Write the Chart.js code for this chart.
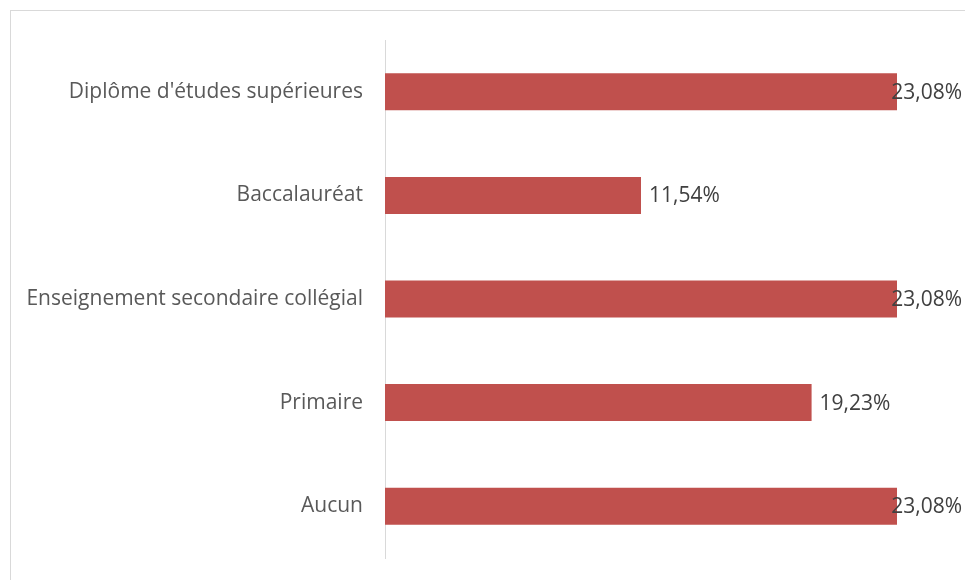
<!DOCTYPE html>
<html><head><meta charset="utf-8">
<script src="https://cdn.jsdelivr.net/npm/chart.js@4/dist/chart.umd.min.js"></script>
<style>html,body{margin:0;padding:0;background:#fff;}#wrap{width:965px;height:580px;position:relative;}</style>
</head><body><div id="wrap"><canvas id="c" width="965" height="580"></canvas></div>
<script>
const categories = ["Diplôme d'études supérieures","Baccalauréat","Enseignement secondaire collégial","Primaire","Aucun"];
const values = [23.08, 11.54, 23.08, 19.23, 23.08];
const valueLabels = ["23,08%","11,54%","23,08%","19,23%","23,08%"];

const FONT = "Open Sans";
const frame = {id:'frame', beforeDraw(chart){const c=chart.ctx;c.save();c.fillStyle='#fff';c.fillRect(0,0,chart.width,chart.height);c.strokeStyle='#d9d9d9';c.lineWidth=1;c.strokeRect(10.5,10.5,1000,1000);c.restore();}};
const labels = {id:'vlabels', afterDatasetsDraw(chart){
  const c=chart.ctx; const meta=chart.getDatasetMeta(0);
  c.save(); c.font='21px "'+FONT+'"'; c.fillStyle='#404040'; c.textBaseline='middle'; c.textAlign='left';
  meta.data.forEach((bar,i)=>{const t=valueLabels[i]; const w=c.measureText(t).width; let x=bar.x+8; if(x+w>962) x=962-w; c.fillText(t,x,bar.y+1);});
  c.restore();}};
new Chart(document.getElementById('c'),{
  type:'bar',
  data:{labels:categories,datasets:[{data:values,backgroundColor:'#C0504D',borderWidth:0,barPercentage:0.357,categoryPercentage:1}]},
  options:{indexAxis:'y',responsive:false,animation:false,
    layout:{padding:{left:0,right:68,top:40,bottom:22}},
    plugins:{legend:{display:false},tooltip:{enabled:false}},
    scales:{
      x:{display:false,min:0,max:23.08},
      y:{grid:{display:false,drawTicks:false},border:{display:true,color:'#d9d9d9',width:1},
        ticks:{color:'#595959',font:{family:FONT,size:21},padding:22},
        afterFit(s){s.width=385;s.paddingTop=0;s.paddingBottom=0;}}
    }},
  plugins:[frame,labels]
});
</script></body></html>
